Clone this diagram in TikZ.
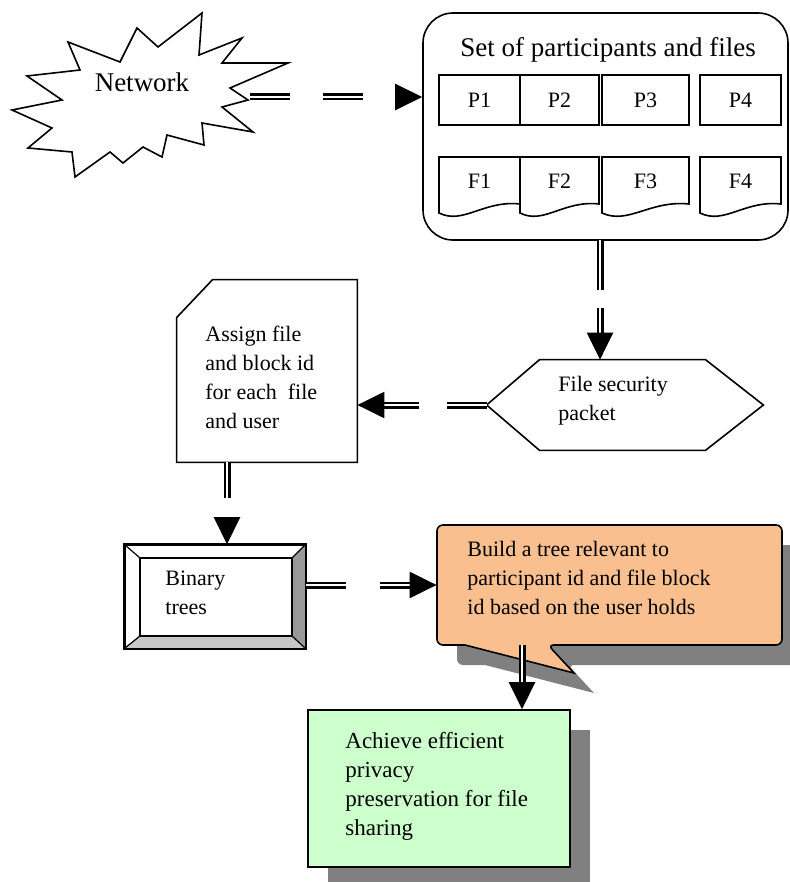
\documentclass[tikz,border=0pt]{standalone}
\usepackage{fontspec}
\setmainfont{Liberation Serif}
\usetikzlibrary{arrows.meta}
\definecolor{callorange}{RGB}{250,191,143}
\definecolor{achgreen}{RGB}{204,255,204}

\begin{document}
\begin{tikzpicture}[x=0.5pt,y=-0.5pt,
  box/.style={draw,line width=0.8pt,fill=white,inner sep=0pt},
  txt/.style={align=left,inner sep=0pt,font=\fontsize{11}{14.5}\selectfont},
  flow/.style={double,double distance=1.1pt,line width=1.2pt,
    -{Triangle[length=13.5pt,width=13pt]}},
  shade/.style={fill=black!50,draw=none}
]
  \useasboundingbox (0,0) rectangle (790,882);
  \clip (0,0) rectangle (790,882);

  % network cloud
  \draw[line width=0.8pt,fill=white] (202,13) -- (199,55) -- (242,38) -- (222,63)
    -- (288,63) -- (230,88) -- (248,100) -- (222,107) -- (253,132) -- (202,123)
    -- (204,145) -- (167,135) -- (162,157) -- (143,147) -- (123,163) -- (110,152)
    -- (75,177) -- (72,152) -- (28,148) -- (52,128) -- (12,110) -- (62,100)
    -- (27,76) -- (80,70) -- (68,42) -- (120,62) -- (137,28) -- (158,47) -- cycle;
  \node[txt,font=\fontsize{13.5}{16}\selectfont] (net-t) at (142,82) {Network};
  \coordinate (net) at (250,97);

  % participants and files
  \node[box,rounded corners=15pt,minimum width=182.5pt,minimum height=113.5pt]
    (set) at (605.5,126.5) {};
  \node[txt,font=\fontsize{13.5}{16}\selectfont] (title) at (608,50)
    {Set of participants and files};
  \foreach \i/\cx/\w in {1/479.5/40.5,2/559.5/39.5,3/645.5/43.5,4/740.5/40.5}
    \node[box,txt,draw,fill=white,minimum width=\w pt,minimum height=25pt]
      (p\i) at (\cx,100) {P\i};
  \foreach \i/\xa/\xb in {1/439/520,2/520/599,3/602/689,4/700/781} {
    \draw[box] (\xa,213) -- (\xa,157) -- (\xb,157) -- (\xb,204)
      .. controls ({\xa+0.55*(\xb-\xa)},200) and ({\xa+0.3*(\xb-\xa)},225) .. (\xa,213)
      -- cycle;
    \node[txt] (f\i) at ({(\xa+\xb)/2},181) {F\i};
  }

  % file security packet
  \node[inner sep=0pt,minimum width=138pt,minimum height=45pt] (hex) at (625,405) {};
  \draw[box] (hex.west) -- ([xshift=26.5pt]hex.north west)
    -- ([xshift=-29pt]hex.north east) -- (hex.east)
    -- ([xshift=-29pt]hex.south east) -- ([xshift=26.5pt]hex.south west) -- cycle;
  \node[txt,anchor=north west] (hex-t) at (558,376) {File security\\packet};

  % assign ids
  \node[inner sep=0pt,minimum width=90pt,minimum height=91pt] (assign) at (267,371) {};
  \draw[box] ([yshift=-19pt]assign.north west) -- ([xshift=18pt]assign.north west)
    -- (assign.north east) -- (assign.south east) -- (assign.south west) -- cycle;
  \node[txt,anchor=north west] (assign-t) at (205,326)
    {Assign file\\and block id\\for each~ file\\and user};

  % binary trees
  \node[box,minimum width=90pt,minimum height=51.5pt] (bin) at (215,596.5) {};
  \fill[black!40] (305,545) -- (305,648) -- (292,636) -- (292,558) -- cycle;
  \fill[black!22] (125,648) -- (305,648) -- (292,636) -- (140,636) -- cycle;
  \draw[line width=0.6pt] (125,545) -- (140,558) (305,545) -- (292,558)
    (125,648) -- (140,636) (305,648) -- (292,636);
  \draw[line width=0.6pt] (140,558) rectangle (292,636);
  \draw[line width=0.8pt] (bin.north west) rectangle (bin.south east);
  \node[txt,anchor=north west] (bin-t) at (165,571) {Binary\\trees};

  % build tree callout
  \fill[shade,rounded corners=3pt] (485,665) -- (457,665) -- (457,545) -- (802,545)
    -- (802,665) -- (568,665) [sharp corners] -- (594,693) -- cycle;
  \draw[line width=0.8pt,fill=callorange,rounded corners=3pt] (465,645) -- (437,645)
    -- (437,525) -- (782,525) -- (782,645) -- (548,645) [sharp corners] -- (574,673)
    -- cycle;
  \node[inner sep=0pt,minimum width=172.5pt,minimum height=60pt] (build) at (609.5,585) {};
  \node[txt,anchor=north west] (build-t) at (467,541)
    {Build a tree relevant to\\participant id and file block\\id based on the user holds};

  % result
  \fill[shade] (328,730) rectangle (590,890);
  \node[box,fill=achgreen,minimum width=131pt,minimum height=78.5pt] (ach) at (439,788.5) {};
  \node[txt,anchor=north west,font=\fontsize{11.5}{14.5}\selectfont] (ach-t) at (345,732)
    {Achieve efficient\\privacy\\preservation for file\\sharing};

  % connectors
  \draw[flow,dash pattern=on 20pt off 16.5pt] (net) -- (net -| set.west);
  \coordinate (a2) at (600,240);
  \draw[flow,dash pattern=on 25pt off 9pt] (a2) -- (a2 |- hex.north);
  \draw[flow,dash pattern=on 20pt off 14pt] (hex.west) -- (hex.west -| assign.east);
  \coordinate (a4) at (227,462);
  \draw[flow,dash pattern=on 18pt off 10pt] (a4) -- (a4 |- bin.north);
  \draw[flow,dash pattern=on 20pt off 17pt] (bin.east |- build.west) -- (build.west);
  \coordinate (a6) at (522,645);
  \draw[flow] (a6) -- (a6 |- ach.north);
\end{tikzpicture}
\end{document}
